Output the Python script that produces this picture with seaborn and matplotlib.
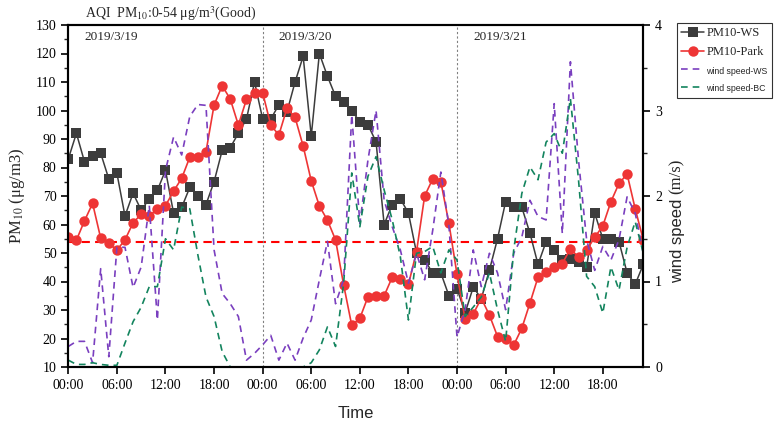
import numpy as np
import pandas as pd
import matplotlib
matplotlib.use("Agg")
import matplotlib.pyplot as plt
from matplotlib.ticker import MultipleLocator
import seaborn as sns

# ---------------- data (hourly, 2019/3/19 00:00 - 2019/3/21 23:00) ----------------
hours = list(range(72))
pm10_ws = [83, 92, 82, 84, 85, 76, 78, 63, 71, 65,
           69, 72, 79, 64, 66, 73, 70, 67, 75, 86,
           87, 92, 97, 110, 97, 97, 102, 99.5, 110, 119,
           91, 120, 112, 105, 103, 100, 96, 95, 89, 60,
           67, 69, 64, 50, 47.5, 43, 43, 35, 37.5, 29,
           38, 34, 44, 55, 68, 66, 66, 57, 46, 54,
           51, 47.5, 48, 47, 45, 64, 55, 55, 54, 43,
           39, 46]
pm10_park = [55.5, 54.5, 61.3, 67.4, 55.2, 53.4, 51, 54.6, 60.6, 63.6,
             63, 65.5, 66.6, 71.7, 76.2, 83.6, 83.8, 85.5, 101.9, 108.7,
             104, 94.9, 103.9, 106.2, 106.2, 94.9, 91.4, 100.8, 97.6, 87.5,
             75.3, 66.5, 61.5, 54.6, 38.8, 24.6, 27.1, 34.6, 35, 35,
             41.5, 41, 39, 50.5, 70, 76, 75, 60.4, 42.5, 26.7,
             28.6, 34.1, 28.2, 20.7, 20, 17.7, 23.6, 32.4, 41.5, 43.4,
             45, 46.3, 51.5, 48.5, 51, 55.5, 59.5, 68, 74.4, 77.7,
             65.5, 54.6]
wind_ws = [0.24, 0.3, 0.3, 0.05, 1.15, 0.12, 1.4, 1.4, 0.93, 1.17,
           1.89, 0.55, 2.3, 2.69, 2.48, 2.93, 3.07, 3.06, 1.37, 0.86,
           0.74, 0.59, 0.08, 0.16, 0.26, 0.37, 0.08, 0.28, 0.08, 0.34,
           0.55, 1.02, 1.47, 0.74, 1.02, 2.95, 1.68, 2.42, 3.0, 1.95,
           1.64, 1.37, 0.98, 1.33, 1.02, 1.6, 2.28, 1.65, 0.35, 0.67,
           1.37, 0.94, 1.33, 1.1, 0.67, 1.33, 1.52, 1.95, 1.76, 1.72,
           3.08, 1.56, 3.57, 2.42, 1.49, 1.13, 1.41, 1.25, 1.49, 1.99,
           1.8, 1.33]
wind_bc = [0.08, 0.03, 0.03, 0.05, 0.03, 0.02, 0.02, 0.28, 0.53, 0.7,
           0.94, 0.94, 1.5, 1.37, 1.87, 1.85, 1.31, 0.82, 0.59, 0.18,
           0.0, 0.0, 0.0, 0.0, 0.0, 0.0, 0.0, 0.0, 0.0, 0.0,
           0.05, 0.2, 0.47, 0.24, 0.98, 2.27, 1.64, 2.23, 2.46, 2.07,
           1.72, 1.29, 0.55, 1.33, 1.35, 1.41, 1.1, 1.37, 1.25, 0.59,
           0.7, 0.82, 1.1, 0.67, 0.3, 1.37, 2.03, 2.34, 2.19, 2.63,
           2.73, 2.5, 3.14, 2.19, 1.06, 0.94, 0.63, 1.17, 0.9, 1.4,
           1.7, 1.33]
tick_hours = [0, 6, 12, 18, 24, 30, 36, 42, 48, 54, 60, 66]
tick_labels = ["00:00", "06:00", "12:00", "18:00"] * 3
day_hours = [2, 26, 50]
day_labels = ["2019/3/19", "2019/3/20", "2019/3/21"]
aqi_limit = 54

series_names = ["PM10-WS", "PM10-Park", "wind speed-WS", "wind speed-BC"]

# ---------------- style ----------------
sns.set_theme(style="ticks")
plt.rcParams["font.family"] = ["Liberation Serif", "DejaVu Serif"]
plt.rcParams["mathtext.fontset"] = "stix"

fig = plt.figure(figsize=(7.74, 4.22), dpi=100)
ax = fig.add_axes([68.3 / 774, 1 - 367 / 422, (643.3 - 68.3) / 774, (367 - 25) / 422])
ax2 = ax.twinx()

c_ws = "#3c3c3c"
c_park = "#ee3535"
c_wws = "#7a3fbf"
c_wbc = "#13845e"

df = pd.DataFrame({"hour": hours, "ws": pm10_ws, "park": pm10_park,
                   "wws": wind_ws, "wbc": wind_bc})

sns.lineplot(data=df, x="hour", y="ws", ax=ax, color=c_ws, marker="s",
             markersize=6.5, markeredgewidth=0, linewidth=1.1, estimator=None)
sns.lineplot(data=df, x="hour", y="park", ax=ax, color=c_park, marker="o",
             markersize=7.5, markeredgewidth=0, linewidth=1.2, estimator=None)
ax.axhline(aqi_limit, color="red", linestyle=(0, (4, 2.5)), linewidth=1.5, zorder=1)
for h in (24, 48):
    ax.axvline(h, color="#808080", linestyle=(0, (2, 2)), linewidth=0.8, zorder=1)

sns.lineplot(data=df, x="hour", y="wws", ax=ax2, color=c_wws, linewidth=1.2,
             linestyle=(0, (4, 3)), estimator=None)
sns.lineplot(data=df, x="hour", y="wbc", ax=ax2, color=c_wbc, linewidth=1.2,
             linestyle=(0, (4, 3)), estimator=None)

ax.set_xlim(0, 71)
ax.set_ylim(10, 130)
ax2.set_ylim(0, 4)
ax.set_xticks(tick_hours)
ax.set_xticklabels(tick_labels)
ax.set_yticks(range(10, 131, 10))
ax.yaxis.set_minor_locator(MultipleLocator(5))
ax2.set_yticks([0, 1, 2, 3, 4])
ax2.yaxis.set_minor_locator(MultipleLocator(0.5))

for a in (ax, ax2):
    a.tick_params(axis="both", which="major", direction="out", length=5, width=1.2,
                  labelsize=10, colors="black")
    a.tick_params(axis="both", which="minor", direction="out", length=3, width=1.0)
    for s in a.spines.values():
        s.set_visible(True)
        s.set_linewidth(1.5)
        s.set_color("black")
    a.grid(False)

ax.set_xlabel("Time", family=["Liberation Sans"], fontsize=12, labelpad=10)
ax.set_ylabel("PM$_{10}$ (μg/m3)", fontsize=12, labelpad=6)
ax2.set_ylabel("")

fig.text(677 / 774, 1 - 176 / 422, "(m/s)", rotation=90, ha="center", va="center",
         fontsize=12)
fig.text(678 / 774, 1 - 241 / 422, "wind speed", rotation=90, ha="center", va="center",
         fontsize=12, family=["Liberation Sans"])

fig.text(85 / 774, 1 - 14 / 422, "AQI  PM$_{10}$:0-54 μg/m$^3$(Good)", ha="left",
         va="center", fontsize=10)

for h, lab in zip(day_hours, day_labels):
    ax.text(h, 0.965, lab, transform=ax.get_xaxis_transform(), ha="left", va="center",
            fontsize=9.5)

handles = [ax.get_lines()[0], ax.get_lines()[1], ax2.get_lines()[0], ax2.get_lines()[1]]
leg = fig.legend(handles, series_names, loc="upper right",
                 bbox_to_anchor=(772 / 774, 1 - 22.7 / 422), borderaxespad=0,
                 frameon=True, fancybox=False, edgecolor="black", fontsize=9,
                 handlelength=1.8, handletextpad=0.2, borderpad=0.35, labelspacing=0.55)
leg.get_frame().set_linewidth(0.8)
for t in leg.get_texts()[2:]:
    t.set_fontfamily("Liberation Sans")
    t.set_fontsize(6.3)

fig.savefig("out.png", dpi=100)
